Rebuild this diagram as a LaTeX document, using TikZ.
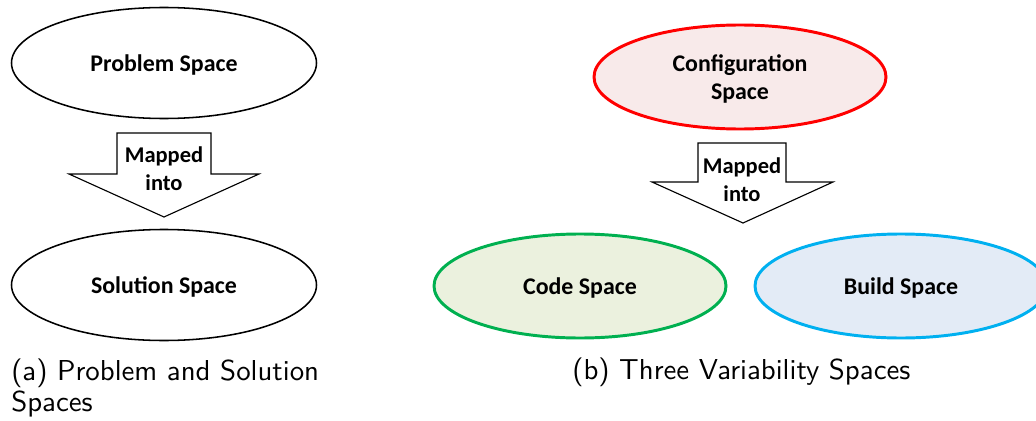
\documentclass[tikz,border=0pt]{standalone}
\usepackage{fontspec}
\newfontfamily\labelfont{Carlito}
\newfontfamily\capfont{lmsans10-regular.otf}
\usetikzlibrary{shapes.geometric}

\definecolor{cfgline}{HTML}{FF0000}
\definecolor{cfgfill}{HTML}{F8EAEA}
\definecolor{codeline}{HTML}{00B050}
\definecolor{codefill}{HTML}{EBF1DE}
\definecolor{buildline}{HTML}{00B0F0}
\definecolor{buildfill}{HTML}{E3EBF6}

\newdimen\px \px=0.025cm
\tikzset{
  space/.style={ellipse, draw=black, line width=1.1pt, inner sep=0pt, text depth=0pt,
    font=\labelfont\bfseries\fontsize{17}{19.8}\selectfont, align=center},
  bigspace/.style={space, minimum width=305\px, minimum height=111\px},
  colspace/.style={space, line width=2.1pt, minimum width=292\px, minimum height=104\px},
  maparrow/.style={draw=black, line width=0.8pt, fill=white, line join=miter},
  maptext/.style={font=\labelfont\bfseries\fontsize{16}{19.8}\selectfont, align=center, inner sep=0pt},
  caption/.style={font=\capfont\fontsize{20.5}{22}\selectfont, align=left, inner sep=0pt, anchor=base west},
}

\begin{document}
\begin{tikzpicture}[x=0.025cm, y=-0.025cm]
\useasboundingbox (0,0) rectangle (1036,420);

% (a) problem space mapped into solution space
\node[bigspace] (prob) at (164,63) {Problem Space};
\node[bigspace] (sol) at (164,285) {Solution Space};
\coordinate (mapA) at (164,133);
\draw[maparrow] (mapA) ++(-47,0) -- ++(94,0) -- ++(0,41) -- ++(48,0)
  -- (164,217) -- (69,174) -- ++(48,0) -- cycle;
\node[maptext] (mapAtext) at (164,169) {Mapped\\into};

% (b) configuration space mapped into code and build spaces
\node[colspace, draw=cfgline, fill=cfgfill] (cfg) at (740,77) {Configuration\\Space};
\node[colspace, draw=codeline, fill=codefill] (code) at (580,286) {Code Space};
\node[colspace, draw=buildline, fill=buildfill] (build) at (901,286) {Build Space};
\coordinate (mapB) at (742,143);
\draw[maparrow] (mapB) ++(-44,0) -- ++(88,0) -- ++(0,39) -- ++(47,0)
  -- (743,223) -- (652,182) -- ++(46,0) -- cycle;
\node[maptext] (mapBtext) at (742,180) {Mapped\\into};

% sub-figure captions (base anchor sits on the last line)
\node[caption] (capA) at (11,411) {(a) Problem and Solution\\Spaces};
\node[caption] (capB) at (572,379) {(b) Three Variability Spaces};
\end{tikzpicture}
\end{document}
